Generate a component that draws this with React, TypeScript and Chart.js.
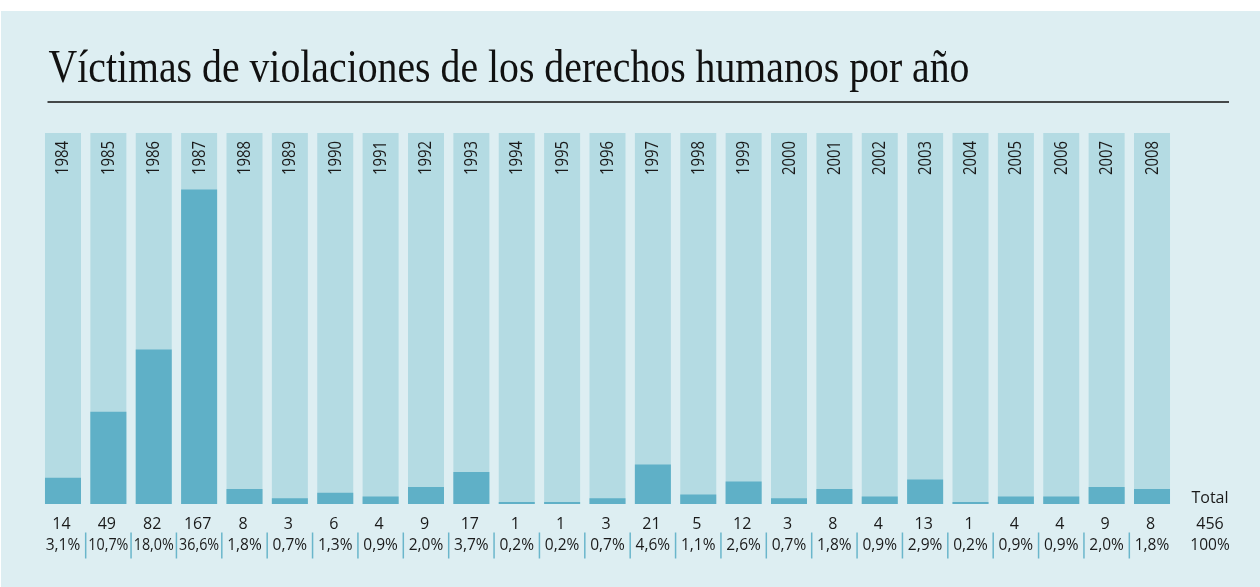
import React, { useEffect, useRef } from "react";
import { Chart, registerables } from "chart.js";

Chart.register(...registerables);

const TITLE = "Víctimas de violaciones de los derechos humanos por año";
const YEARS = [
  "1984", "1985", "1986", "1987", "1988", "1989", "1990", "1991", "1992", "1993",
  "1994", "1995", "1996", "1997", "1998", "1999", "2000", "2001", "2002", "2003",
  "2004", "2005", "2006", "2007", "2008",
];
const VICTIMS = [14, 49, 82, 167, 8, 3, 6, 4, 9, 17, 1, 1, 3, 21, 5, 12, 3, 8, 4, 13, 1, 4, 4, 9, 8];
const SHARES = [
  "3,1%", "10,7%", "18,0%", "36,6%", "1,8%", "0,7%", "1,3%", "0,9%", "2,0%", "3,7%",
  "0,2%", "0,2%", "0,7%", "4,6%", "1,1%", "2,6%", "0,7%", "1,8%", "0,9%", "2,9%",
  "0,2%", "0,9%", "0,9%", "2,0%", "1,8%",
];
const TOTAL_LABEL = "Total";
const TOTAL_VALUE = "456";
const TOTAL_SHARE = "100%";
const Y_MAX = 197;

const PANEL_BG = "#ddeef2";
const BAR_BG = "#b4dbe3";
const BAR_FG = "#5fb0c7";
const SEP = "#6ab6cb";
const SANS = "'Open Sans', 'Noto Sans', sans-serif";

const decorPlugin = {
  id: "decor",
  beforeDraw(chart: any) {
    const ctx = chart.ctx as CanvasRenderingContext2D;
    ctx.save();
    ctx.fillStyle = "#ffffff";
    ctx.fillRect(0, 0, chart.width, chart.height);
    ctx.fillStyle = PANEL_BG;
    ctx.fillRect(1, 11, chart.width - 1, chart.height - 11);
    ctx.restore();
  },
  afterDatasetsDraw(chart: any) {
    const ctx = chart.ctx as CanvasRenderingContext2D;
    const xs = chart.scales.x;
    const ys = chart.scales.y;
    const top = ys.getPixelForValue(Y_MAX);
    const bottom = ys.getPixelForValue(0);
    const step = xs.getPixelForValue(1) - xs.getPixelForValue(0);

    ctx.save();
    // title
    ctx.fillStyle = "#111111";
    ctx.font = "46px 'Liberation Serif', 'DejaVu Serif', serif";
    ctx.textBaseline = "alphabetic";
    ctx.textAlign = "left";
    const tw = ctx.measureText(TITLE).width;
    const targetW = 921;
    ctx.save();
    ctx.translate(48.5, 82);
    ctx.scale(targetW / tw, 1);
    ctx.fillText(TITLE, 0, 0);
    ctx.restore();

    // rule
    ctx.strokeStyle = "#111111";
    ctx.lineWidth = 1.3;
    ctx.beginPath();
    ctx.moveTo(47.5, 102);
    ctx.lineTo(1229, 102);
    ctx.stroke();

    // year labels (rotated)
    ctx.fillStyle = "#1a1a1a";
    ctx.font = `18.5px ${SANS}`;
    YEARS.forEach((y, i) => {
      const cx = xs.getPixelForValue(i);
      const w = ctx.measureText(y).width;
      ctx.save();
      ctx.translate(cx + 5.5, top + 8);
      ctx.rotate(-Math.PI / 2);
      ctx.scale(34 / w, 1);
      ctx.textAlign = "right";
      ctx.textBaseline = "alphabetic";
      ctx.fillText(y, 0, 0);
      ctx.restore();
    });

    // values
    ctx.textAlign = "center";
    ctx.textBaseline = "alphabetic";
    ctx.fillStyle = "#1a1a1a";
    ctx.font = `16px ${SANS}`;
    VICTIMS.forEach((v, i) => {
      const cx = xs.getPixelForValue(i);
      ctx.fillText(String(v), cx - 1.5, bottom + 25);
    });
    ctx.font = `15.5px ${SANS}`;
    SHARES.forEach((s, i) => {
      const cx = xs.getPixelForValue(i);
      ctx.save();
      const w = ctx.measureText(s).width;
      const maxW = 40;
      ctx.translate(cx, bottom + 46);
      if (w > maxW) ctx.scale(maxW / w, 1);
      ctx.fillText(s, 0, 0);
      ctx.restore();
    });

    // separators
    ctx.strokeStyle = SEP;
    ctx.lineWidth = 1.5;
    for (let i = 0; i < YEARS.length - 1; i++) {
      const sx = xs.getPixelForValue(i) + step / 2;
      ctx.beginPath();
      ctx.moveTo(sx, bottom + 28.5);
      ctx.lineTo(sx, bottom + 54.5);
      ctx.stroke();
    }

    // totals
    const tx = 1210;
    ctx.fillStyle = "#1a1a1a";
    ctx.font = `16px ${SANS}`;
    ctx.fillText(TOTAL_LABEL, tx, bottom - 1);
    ctx.fillText(TOTAL_VALUE, tx, bottom + 25);
    ctx.font = `15.5px ${SANS}`;
    ctx.fillText(TOTAL_SHARE, tx, bottom + 46);
    ctx.restore();
  },
};

export default function App() {
  const ref = useRef<HTMLCanvasElement | null>(null);
  useEffect(() => {
    if (!ref.current) return;
    const chart = new Chart(ref.current, {
      type: "bar",
      data: {
        labels: YEARS,
        datasets: [
          {
            label: "Víctimas",
            data: VICTIMS,
            backgroundColor: BAR_FG,
            borderWidth: 0,
            grouped: false,
            categoryPercentage: 1,
            barPercentage: 0.7934,
          } as any,
          {
            label: "fondo",
            data: YEARS.map(() => Y_MAX),
            backgroundColor: BAR_BG,
            borderWidth: 0,
            grouped: false,
            categoryPercentage: 1,
            barPercentage: 0.7934,
          } as any,
        ],
      },
      options: {
        responsive: false,
        animation: false,
        layout: { padding: { left: 40.3, right: 85.3, top: 133, bottom: 83 } },
        plugins: { legend: { display: false }, tooltip: { enabled: false }, title: { display: false } },
        scales: {
          x: { display: false, offset: true, grid: { display: false } },
          y: { display: false, min: 0, max: Y_MAX, grid: { display: false } },
        },
      },
      plugins: [decorPlugin],
    });
    return () => chart.destroy();
  }, []);
  return (
    <div style={{ position: "absolute", left: 0, top: 0, width: 1260, height: 587 }}>
      <canvas ref={ref} width={1260} height={587} style={{ display: "block" }} />
    </div>
  );
}
